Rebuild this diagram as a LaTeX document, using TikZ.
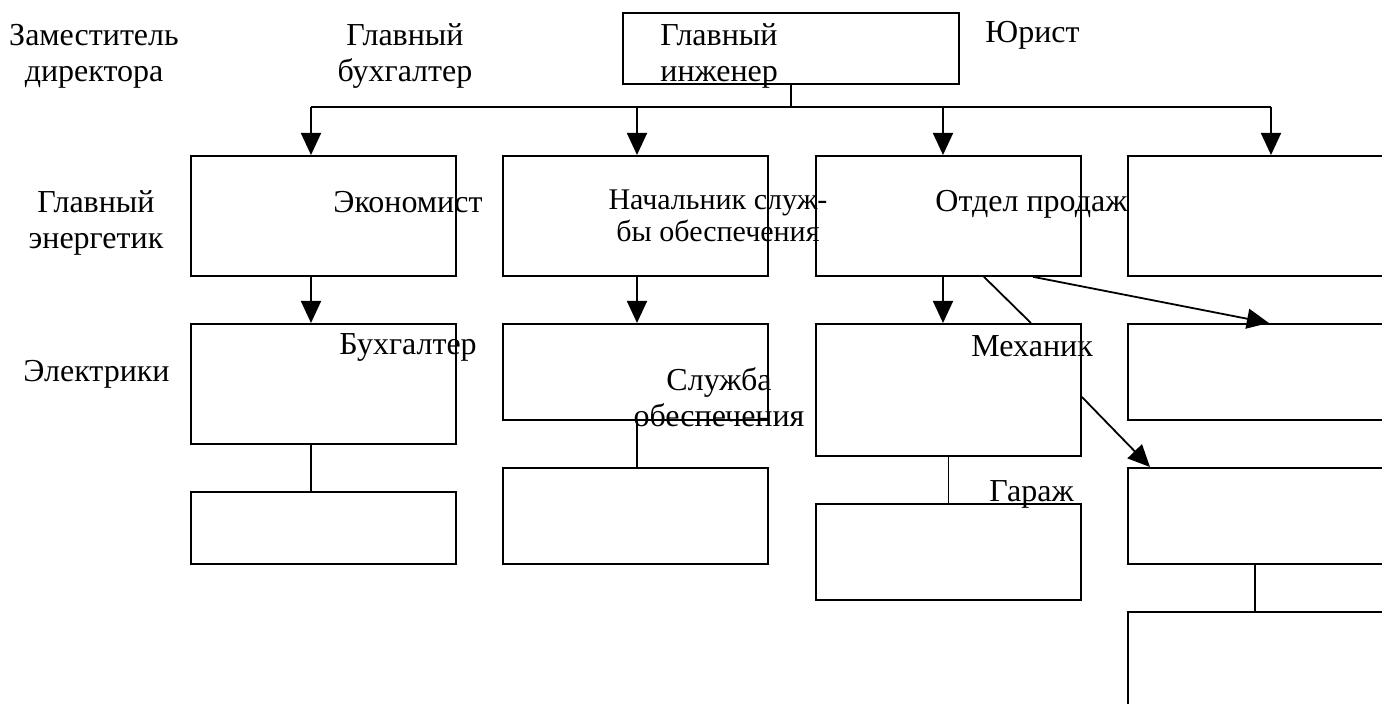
\documentclass[tikz,border=0pt]{standalone}
\usepackage{fontspec}
\setmainfont{Liberation Serif}
\usetikzlibrary{arrows.meta}

\tikzset{
  blok/.style={draw, line width=0.9pt, inner sep=0pt, anchor=north west, minimum width=132.5pt},
  nadp/.style={inner sep=0pt, font=\fontsize{16pt}{18pt}\selectfont},
  strel/.style={line width=0.9pt, -{Triangle[length=11pt,width=10pt]}},
  linia/.style={line width=0.9pt}
}

\begin{document}
\begin{tikzpicture}[x=0.5pt, y=-0.5pt]
			\clip (0,0) rectangle (1382,704);
			% boxes
			\node[blok, minimum width=168pt, minimum height=35.5pt] (glinzh) at (622,12) {};
			\node[blok, minimum height=60pt] (ekon) at (190,155) {};
			\node[blok, minimum height=60pt] (nach) at (502,155) {};
			\node[blok, minimum height=60pt] (otd) at (815,155) {};
			\node[blok, minimum height=60pt] (pust1) at (1127,155) {};
			\node[blok, minimum height=60pt] (buh) at (190,323) {};
			\node[blok, minimum height=48pt] (sluzh) at (502,323) {};
			\node[blok, minimum height=66pt] (mex) at (815,323) {};
			\node[blok, minimum height=48pt] (pust2) at (1127,323) {};
			\node[blok, minimum height=36pt] (pust3) at (190,491) {};
			\node[blok, minimum height=48pt] (pust4) at (502,467) {};
			\node[blok, minimum height=48pt] (garazh) at (815,503) {};
			\node[blok, minimum height=48pt] (pust5) at (1127,467) {};
			\node[blok, minimum height=60pt] (pust6) at (1127,611) {};
			% texts (base = last line)
			\node[nadp, align=center, anchor=base] (zam) at (94,82) {Заместитель\\директора};
			\node[nadp, align=center, anchor=base] (glbuh) at (405,82) {Главный\\бухгалтер};
			\node[nadp, align=left, anchor=base west] (tglinzh) at (660,82) {Главный\\инженер};
			\node[nadp, anchor=base west] (yur) at (985,43) {Юрист};
			\node[nadp, align=center, anchor=base] (glen) at (96,249) {Главный\\энергетик};
			\node[nadp, anchor=base west] (tekon) at (333,213) {Экономист};
			\node[nadp, align=center, anchor=base, font=\fontsize{15pt}{16pt}\selectfont] (tnach) at (718,242) {Начальник служ-\\бы обеспечения};
			\node[nadp, anchor=base west] (totd) at (935,212) {Отдел продаж};
			\node[nadp, anchor=base west] (elek) at (23,382) {Электрики};
			\node[nadp, anchor=base west] (tbuh) at (339,355) {Бухгалтер};
			\node[nadp, align=center, anchor=base] (tsluzh) at (719,427) {Служба\\обеспечения};
			\node[nadp, anchor=base west] (tmex) at (971,357) {Механик};
			\node[nadp, anchor=base west] (tgar) at (989,502) {Гараж};
			% connectors
			\coordinate (s1) at (311,107);
			\coordinate (s2) at (637,107);
			\coordinate (s3) at (943,107);
			\coordinate (s4) at (1271,107);
			\draw[linia] (glinzh.south) -- (glinzh.south |- s1);
			\draw[linia] (s1) -- (s4);
			\draw[strel] (s1) -- (s1 |- ekon.north);
			\draw[strel] (s2) -- (s2 |- nach.north);
			\draw[strel] (s3) -- (s3 |- otd.north);
			\draw[strel] (s4) -- (s4 |- pust1.north);
			\draw[strel] (ekon.south -| s1) -- (buh.north -| s1);
			\draw[strel] (nach.south -| s2) -- (sluzh.north -| s2);
			\draw[strel] (otd.south -| s3) -- (mex.north -| s3);
			\draw[linia] ([xshift=17.75pt]otd.south) -- ([xshift=41.25pt]mex.north);
			\draw[strel] ([xshift=42.25pt]otd.south) -- ([xshift=4.25pt]pust2.north);
			\draw[strel] ([yshift=-3.5pt]mex.east) -- ([xshift=11.5pt]pust5.north west);
			\draw[linia] (buh.south -| s1) -- (pust3.north -| s1);
			\draw[linia] (sluzh.south -| s2) -- (pust4.north -| s2);
			\draw[linia] (mex.south) -- (garazh.north);
			\draw[linia] ([xshift=-2.75pt]pust5.south) -- ([xshift=-2.75pt]pust6.north);
		\end{tikzpicture}
\end{document}
